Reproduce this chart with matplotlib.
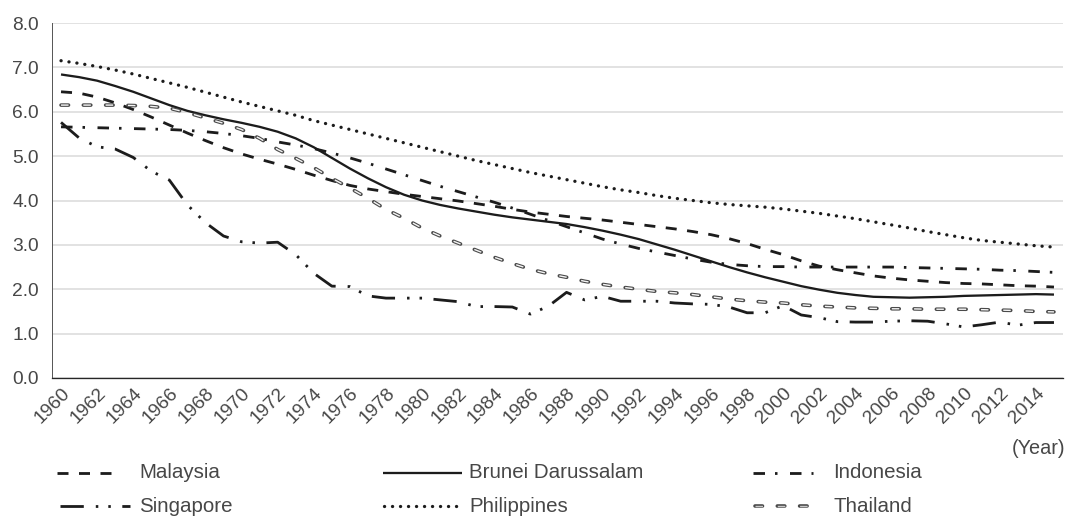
import matplotlib
matplotlib.use('Agg')
import matplotlib.pyplot as plt
from matplotlib.transforms import ScaledTranslation

plt.rcParams['font.family'] = ['Liberation Sans', 'DejaVu Sans']
plt.rcParams['lines.scale_dashes'] = False

years = list(range(1960, 2016))

malaysia = [6.45, 6.42, 6.33, 6.20, 6.05, 5.88, 5.70, 5.52, 5.35, 5.19,
            5.05, 4.93, 4.82, 4.70, 4.57, 4.45, 4.34, 4.26, 4.20, 4.14,
            4.09, 4.04, 3.99, 3.93, 3.87, 3.80, 3.74, 3.69, 3.64, 3.60,
            3.56, 3.51, 3.46, 3.41, 3.36, 3.30, 3.23, 3.14, 3.03, 2.90,
            2.78, 2.64, 2.52, 2.44, 2.37, 2.30, 2.25, 2.21, 2.18, 2.15,
            2.13, 2.12, 2.10, 2.08, 2.07, 2.05]

brunei = [6.84, 6.78, 6.70, 6.58, 6.45, 6.30, 6.15, 6.02, 5.92, 5.83,
          5.75, 5.66, 5.55, 5.40, 5.20, 4.96, 4.72, 4.50, 4.30, 4.13,
          4.00, 3.90, 3.82, 3.75, 3.68, 3.62, 3.57, 3.52, 3.47, 3.40,
          3.32, 3.23, 3.13, 3.01, 2.89, 2.76, 2.63, 2.50, 2.38, 2.27,
          2.17, 2.07, 1.99, 1.92, 1.87, 1.83, 1.82, 1.81, 1.82, 1.83,
          1.85, 1.86, 1.87, 1.88, 1.89, 1.88]

indonesia = [5.66, 5.65, 5.64, 5.63, 5.62, 5.61, 5.60, 5.58, 5.55, 5.51,
             5.46, 5.40, 5.32, 5.25, 5.17, 5.07, 4.96, 4.84, 4.71, 4.58,
             4.45, 4.32, 4.20, 4.08, 3.96, 3.83, 3.69, 3.55, 3.41, 3.27,
             3.13, 3.02, 2.92, 2.84, 2.76, 2.68, 2.61, 2.56, 2.53, 2.51,
             2.51, 2.50, 2.50, 2.50, 2.50, 2.50, 2.50, 2.49, 2.48, 2.47,
             2.46, 2.45, 2.43, 2.42, 2.40, 2.38]

singapore = [5.76, 5.41, 5.21, 5.16, 4.97, 4.66, 4.46, 3.90, 3.50, 3.20,
             3.07, 3.04, 3.06, 2.78, 2.36, 2.07, 2.06, 1.85, 1.80, 1.80,
             1.80, 1.76, 1.72, 1.61, 1.61, 1.60, 1.44, 1.62, 1.93, 1.76,
             1.84, 1.73, 1.73, 1.73, 1.69, 1.67, 1.66, 1.60, 1.47, 1.47,
             1.63, 1.42, 1.36, 1.27, 1.26, 1.26, 1.28, 1.29, 1.28, 1.22,
             1.15, 1.20, 1.26, 1.19, 1.25, 1.25]

philippines = [7.15, 7.09, 7.02, 6.94, 6.85, 6.75, 6.65, 6.55, 6.44, 6.33,
               6.22, 6.12, 6.02, 5.92, 5.80, 5.70, 5.60, 5.50, 5.40, 5.30,
               5.20, 5.10, 5.00, 4.90, 4.81, 4.72, 4.63, 4.55, 4.47, 4.39,
               4.31, 4.24, 4.18, 4.11, 4.05, 4.00, 3.95, 3.91, 3.88, 3.85,
               3.81, 3.76, 3.71, 3.65, 3.59, 3.52, 3.45, 3.38, 3.30, 3.23,
               3.16, 3.10, 3.06, 3.02, 2.98, 2.95]

thailand = [6.15, 6.15, 6.15, 6.15, 6.14, 6.12, 6.08, 5.98, 5.86, 5.74,
            5.60, 5.40, 5.15, 4.95, 4.74, 4.50, 4.28, 4.05, 3.80, 3.60,
            3.38, 3.20, 3.04, 2.88, 2.72, 2.58, 2.45, 2.35, 2.27, 2.18,
            2.11, 2.05, 2.00, 1.95, 1.92, 1.88, 1.83, 1.78, 1.74, 1.71,
            1.69, 1.65, 1.62, 1.60, 1.58, 1.57, 1.56, 1.56, 1.55, 1.55,
            1.55, 1.54, 1.53, 1.52, 1.50, 1.49]

series_names = ['Malaysia', 'Brunei Darussalam', 'Indonesia',
                'Singapore', 'Philippines', 'Thailand']
series_values = [malaysia, brunei, indonesia, singapore, philippines, thailand]

tick_years = list(range(1960, 2015, 2))
tick_labels = [str(y) for y in tick_years]
y_ticks = [0, 1, 2, 3, 4, 5, 6, 7, 8]

W, H, DPI = 1067, 516, 100
PX = 72.0 / DPI  # pixels -> points
TXT = '#474747'
LINE = '#1c1c1c'


def px(*vals):
    return tuple(v * PX for v in vals)


def style_list(name, legend=False):
    """Return list of line-style layers for a series."""
    if name == 'Malaysia':
        return [dict(color=LINE, lw=2.8 * PX, linestyle=(0, px(11, 10.5)),
                     dash_capstyle='butt')]
    if name == 'Brunei Darussalam':
        return [dict(color=LINE, lw=2.3 * PX, linestyle='-',
                     solid_capstyle='butt')]
    if name == 'Indonesia':
        return [dict(color=LINE, lw=2.8 * PX,
                     linestyle=(0, px(11.5, 10, 2.5, 12.5)),
                     dash_capstyle='butt')]
    if name == 'Singapore':
        return [dict(color=LINE, lw=2.8 * PX,
                     linestyle=(0, px(23.3, 12, 2.5, 10, 2.5, 11.5)),
                     dash_capstyle='butt')]
    if name == 'Philippines':
        return [dict(color=LINE, lw=3.3 * PX, linestyle=(0, px(0.1, 7.9)),
                     dash_capstyle='round')]
    if name == 'Thailand':
        inner = '#c8c8c8' if legend else '#f4f4f4'
        return [dict(color='#4a4a4a', lw=3.6 * PX, linestyle=(0, px(7.5, 14.8)),
                     dash_capstyle='round'),
                dict(color=inner, lw=1.4 * PX, linestyle=(0, px(7.5, 14.8)),
                     dash_capstyle='butt')]
    return []


fig = plt.figure(figsize=(W / DPI, H / DPI), dpi=DPI)
fig.patch.set_facecolor('white')

ax_left, ax_right, ax_top, ax_bottom = 52, 1063, 23, 378
ax = fig.add_axes([ax_left / W, 1 - ax_bottom / H,
                   (ax_right - ax_left) / W, (ax_bottom - ax_top) / H])

x_idx = list(range(len(years)))
for name, vals in zip(series_names, series_values):
    for layer in style_list(name):
        ax.plot(x_idx, vals, **layer)

ax.set_xlim(-0.5, len(years) - 0.5)
ax.set_ylim(0, 8)
ax.set_yticks(y_ticks)
ax.set_yticklabels([f'{v:.1f}' for v in y_ticks])
ax.set_xticks([years.index(y) for y in tick_years])
ax.set_xticklabels(tick_labels, rotation=45, ha='right', va='center',
                   rotation_mode='anchor')

ax.set_axisbelow(True)
ax.yaxis.grid(True, color='#d9d9d9', lw=1.5 * PX)
ax.xaxis.grid(False)
for s in ['top', 'right']:
    ax.spines[s].set_visible(False)
ax.spines['left'].set_color('#595959')
ax.spines['left'].set_linewidth(1.0 * PX)
ax.spines['bottom'].set_color('#262626')
ax.spines['bottom'].set_linewidth(1.3 * PX)
ax.spines['bottom'].set_zorder(3)

ax.tick_params(axis='both', length=0, labelsize=13.8, labelcolor=TXT)
ax.tick_params(axis='y', pad=13 * PX)
ax.tick_params(axis='x', pad=13 * PX)
offset = ScaledTranslation(6 / DPI, 0, fig.dpi_scale_trans)
for lbl in ax.get_xticklabels():
    lbl.set_transform(lbl.get_transform() + offset)

# Legend (drawn in an overlay axes with pixel coordinates)
lax = fig.add_axes([0, 0, 1, 1])
lax.set_xlim(0, W)
lax.set_ylim(H, 0)
lax.axis('off')
lax.patch.set_alpha(0)

legend_layout = {
    'Malaysia': (57, 113, 139, 472.5),
    'Singapore': (60, 130, 139, 506),
    'Brunei Darussalam': (383, 462, 469, 472.5),
    'Philippines': (384, 460, 469, 506),
    'Indonesia': (753, 813, 833, 472.5),
    'Thailand': (755, 808, 833, 506),
}
for name in series_names:
    x0, x1, tx, yy = legend_layout[name]
    for layer in style_list(name, legend=True):
        lax.plot([x0, x1], [yy, yy], **layer)
    lax.text(tx, yy, name, fontsize=14.8, color=TXT, ha='left', va='center')

lax.text(1065, 449, '(Year)', fontsize=14.3, color=TXT, ha='right', va='center')

fig.savefig('out.png', dpi=DPI, facecolor='white')
